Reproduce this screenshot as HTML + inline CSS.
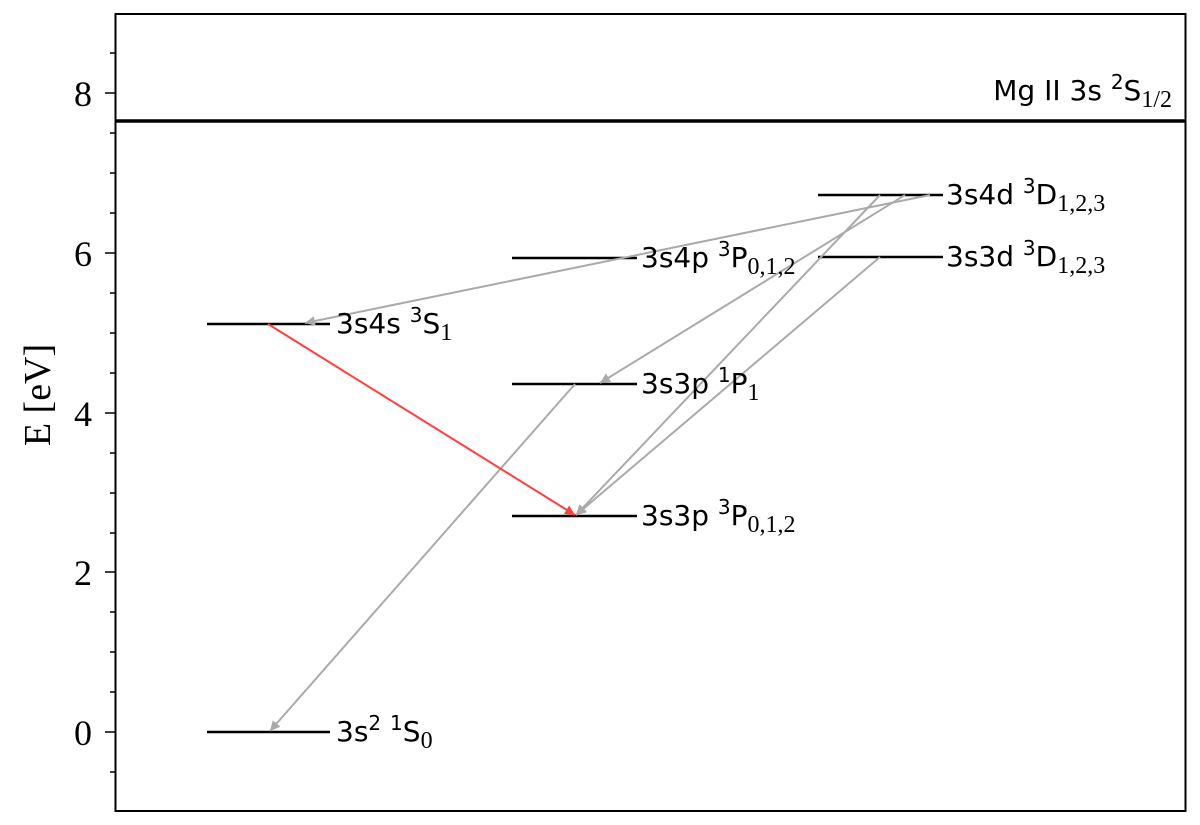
<!DOCTYPE html>
<html><head><meta charset="utf-8"><style>
html,body{margin:0;padding:0;background:#fff;}
svg{display:block;}
.lab{font-family:"DejaVu Sans","Liberation Sans",sans-serif;font-size:28px;fill:#000;}
.sub{font-family:"Liberation Serif","DejaVu Serif",serif;font-size:24px;}
.tk{font-family:"Liberation Serif","DejaVu Serif",serif;font-size:36px;fill:#000;}
</style></head><body>
<svg width="1200" height="825" viewBox="0 0 1200 825" xmlns="http://www.w3.org/2000/svg">
<defs>
<marker id="ag" viewBox="0 0 10 10" refX="10" refY="5" markerWidth="16" markerHeight="10" markerUnits="userSpaceOnUse" orient="auto"><path d="M0,0 L10,5 L0,10 z" fill="#aaaaaa"/></marker>
<marker id="ar" viewBox="0 0 10 10" refX="10" refY="5" markerWidth="16" markerHeight="10" markerUnits="userSpaceOnUse" orient="auto"><path d="M0,0 L10,5 L0,10 z" fill="#ff4040"/></marker>
</defs>
<rect x="115.5" y="14" width="1070" height="797" fill="none" stroke="#000" stroke-width="2"/>
<g stroke="#000" stroke-width="1.5">
<line x1="105" y1="93" x2="115" y2="93"/><line x1="105" y1="253" x2="115" y2="253"/>
<line x1="105" y1="413" x2="115" y2="413"/><line x1="105" y1="572" x2="115" y2="572"/>
<line x1="105" y1="732" x2="115" y2="732"/>
<line x1="110" y1="53" x2="115" y2="53"/><line x1="110" y1="133" x2="115" y2="133"/>
<line x1="110" y1="173" x2="115" y2="173"/><line x1="110" y1="213" x2="115" y2="213"/>
<line x1="110" y1="293" x2="115" y2="293"/><line x1="110" y1="333" x2="115" y2="333"/>
<line x1="110" y1="373" x2="115" y2="373"/><line x1="110" y1="453" x2="115" y2="453"/>
<line x1="110" y1="493" x2="115" y2="493"/><line x1="110" y1="533" x2="115" y2="533"/>
<line x1="110" y1="612" x2="115" y2="612"/><line x1="110" y1="652" x2="115" y2="652"/>
<line x1="110" y1="692" x2="115" y2="692"/><line x1="110" y1="772" x2="115" y2="772"/>
</g>
<g class="tk" text-anchor="middle">
<text x="83" y="106">8</text><text x="83" y="266">6</text><text x="83" y="426">4</text>
<text x="83" y="585">2</text><text x="83" y="745">0</text>
</g>
<text class="tk" transform="translate(50,395) rotate(-90)" text-anchor="middle" style="font-size:38px">E [eV]</text>
<line x1="116" y1="121" x2="1185" y2="121" stroke="#000" stroke-width="3.5"/>
<text class="lab" x="1172" y="100" text-anchor="end">Mg II 3s <tspan dy="-11" font-size="20">2</tspan><tspan dy="11">S</tspan><tspan class="sub" dy="7">1/2</tspan></text>
<g stroke="#000" stroke-width="2.5">
<line x1="207" y1="732" x2="330" y2="732"/>
<line x1="207" y1="324" x2="330" y2="324"/>
<line x1="512" y1="516" x2="637" y2="516"/>
<line x1="512" y1="384" x2="637" y2="384"/>
<line x1="512" y1="258" x2="637" y2="258"/>
<line x1="818" y1="257" x2="943" y2="257"/>
<line x1="818" y1="195" x2="943" y2="195"/>
</g>
<g stroke="#aaaaaa" stroke-width="2" fill="none">
<line x1="930" y1="195" x2="305" y2="323" marker-end="url(#ag)"/>
<line x1="905" y1="195" x2="600" y2="383" marker-end="url(#ag)"/>
<line x1="880" y1="195" x2="576" y2="515" marker-end="url(#ag)"/>
<line x1="880" y1="257" x2="576" y2="515" marker-end="url(#ag)"/>
<line x1="575" y1="384" x2="270" y2="731" marker-end="url(#ag)"/>
</g>
<line x1="268" y1="324" x2="575" y2="515" stroke="#ff4040" stroke-width="2" marker-end="url(#ar)"/>
<g class="lab">
<text x="336" y="741">3s<tspan dy="-11" font-size="20">2</tspan><tspan dy="11"> </tspan><tspan dy="-11" font-size="20">1</tspan><tspan dy="11">S</tspan><tspan class="sub" dy="7">0</tspan></text>
<text x="336" y="333">3s4s <tspan dy="-11" font-size="20">3</tspan><tspan dy="11">S</tspan><tspan class="sub" dy="7">1</tspan></text>
<text x="641" y="525">3s3p <tspan dy="-11" font-size="20">3</tspan><tspan dy="11">P</tspan><tspan class="sub" dy="7">0,1,2</tspan></text>
<text x="641" y="393">3s3p <tspan dy="-11" font-size="20">1</tspan><tspan dy="11">P</tspan><tspan class="sub" dy="7">1</tspan></text>
<text x="641" y="267">3s4p <tspan dy="-11" font-size="20">3</tspan><tspan dy="11">P</tspan><tspan class="sub" dy="7">0,1,2</tspan></text>
<text x="946" y="266">3s3d <tspan dy="-11" font-size="20">3</tspan><tspan dy="11">D</tspan><tspan class="sub" dy="7">1,2,3</tspan></text>
<text x="946" y="204">3s4d <tspan dy="-11" font-size="20">3</tspan><tspan dy="11">D</tspan><tspan class="sub" dy="7">1,2,3</tspan></text>
</g>
</svg>
</body></html>
